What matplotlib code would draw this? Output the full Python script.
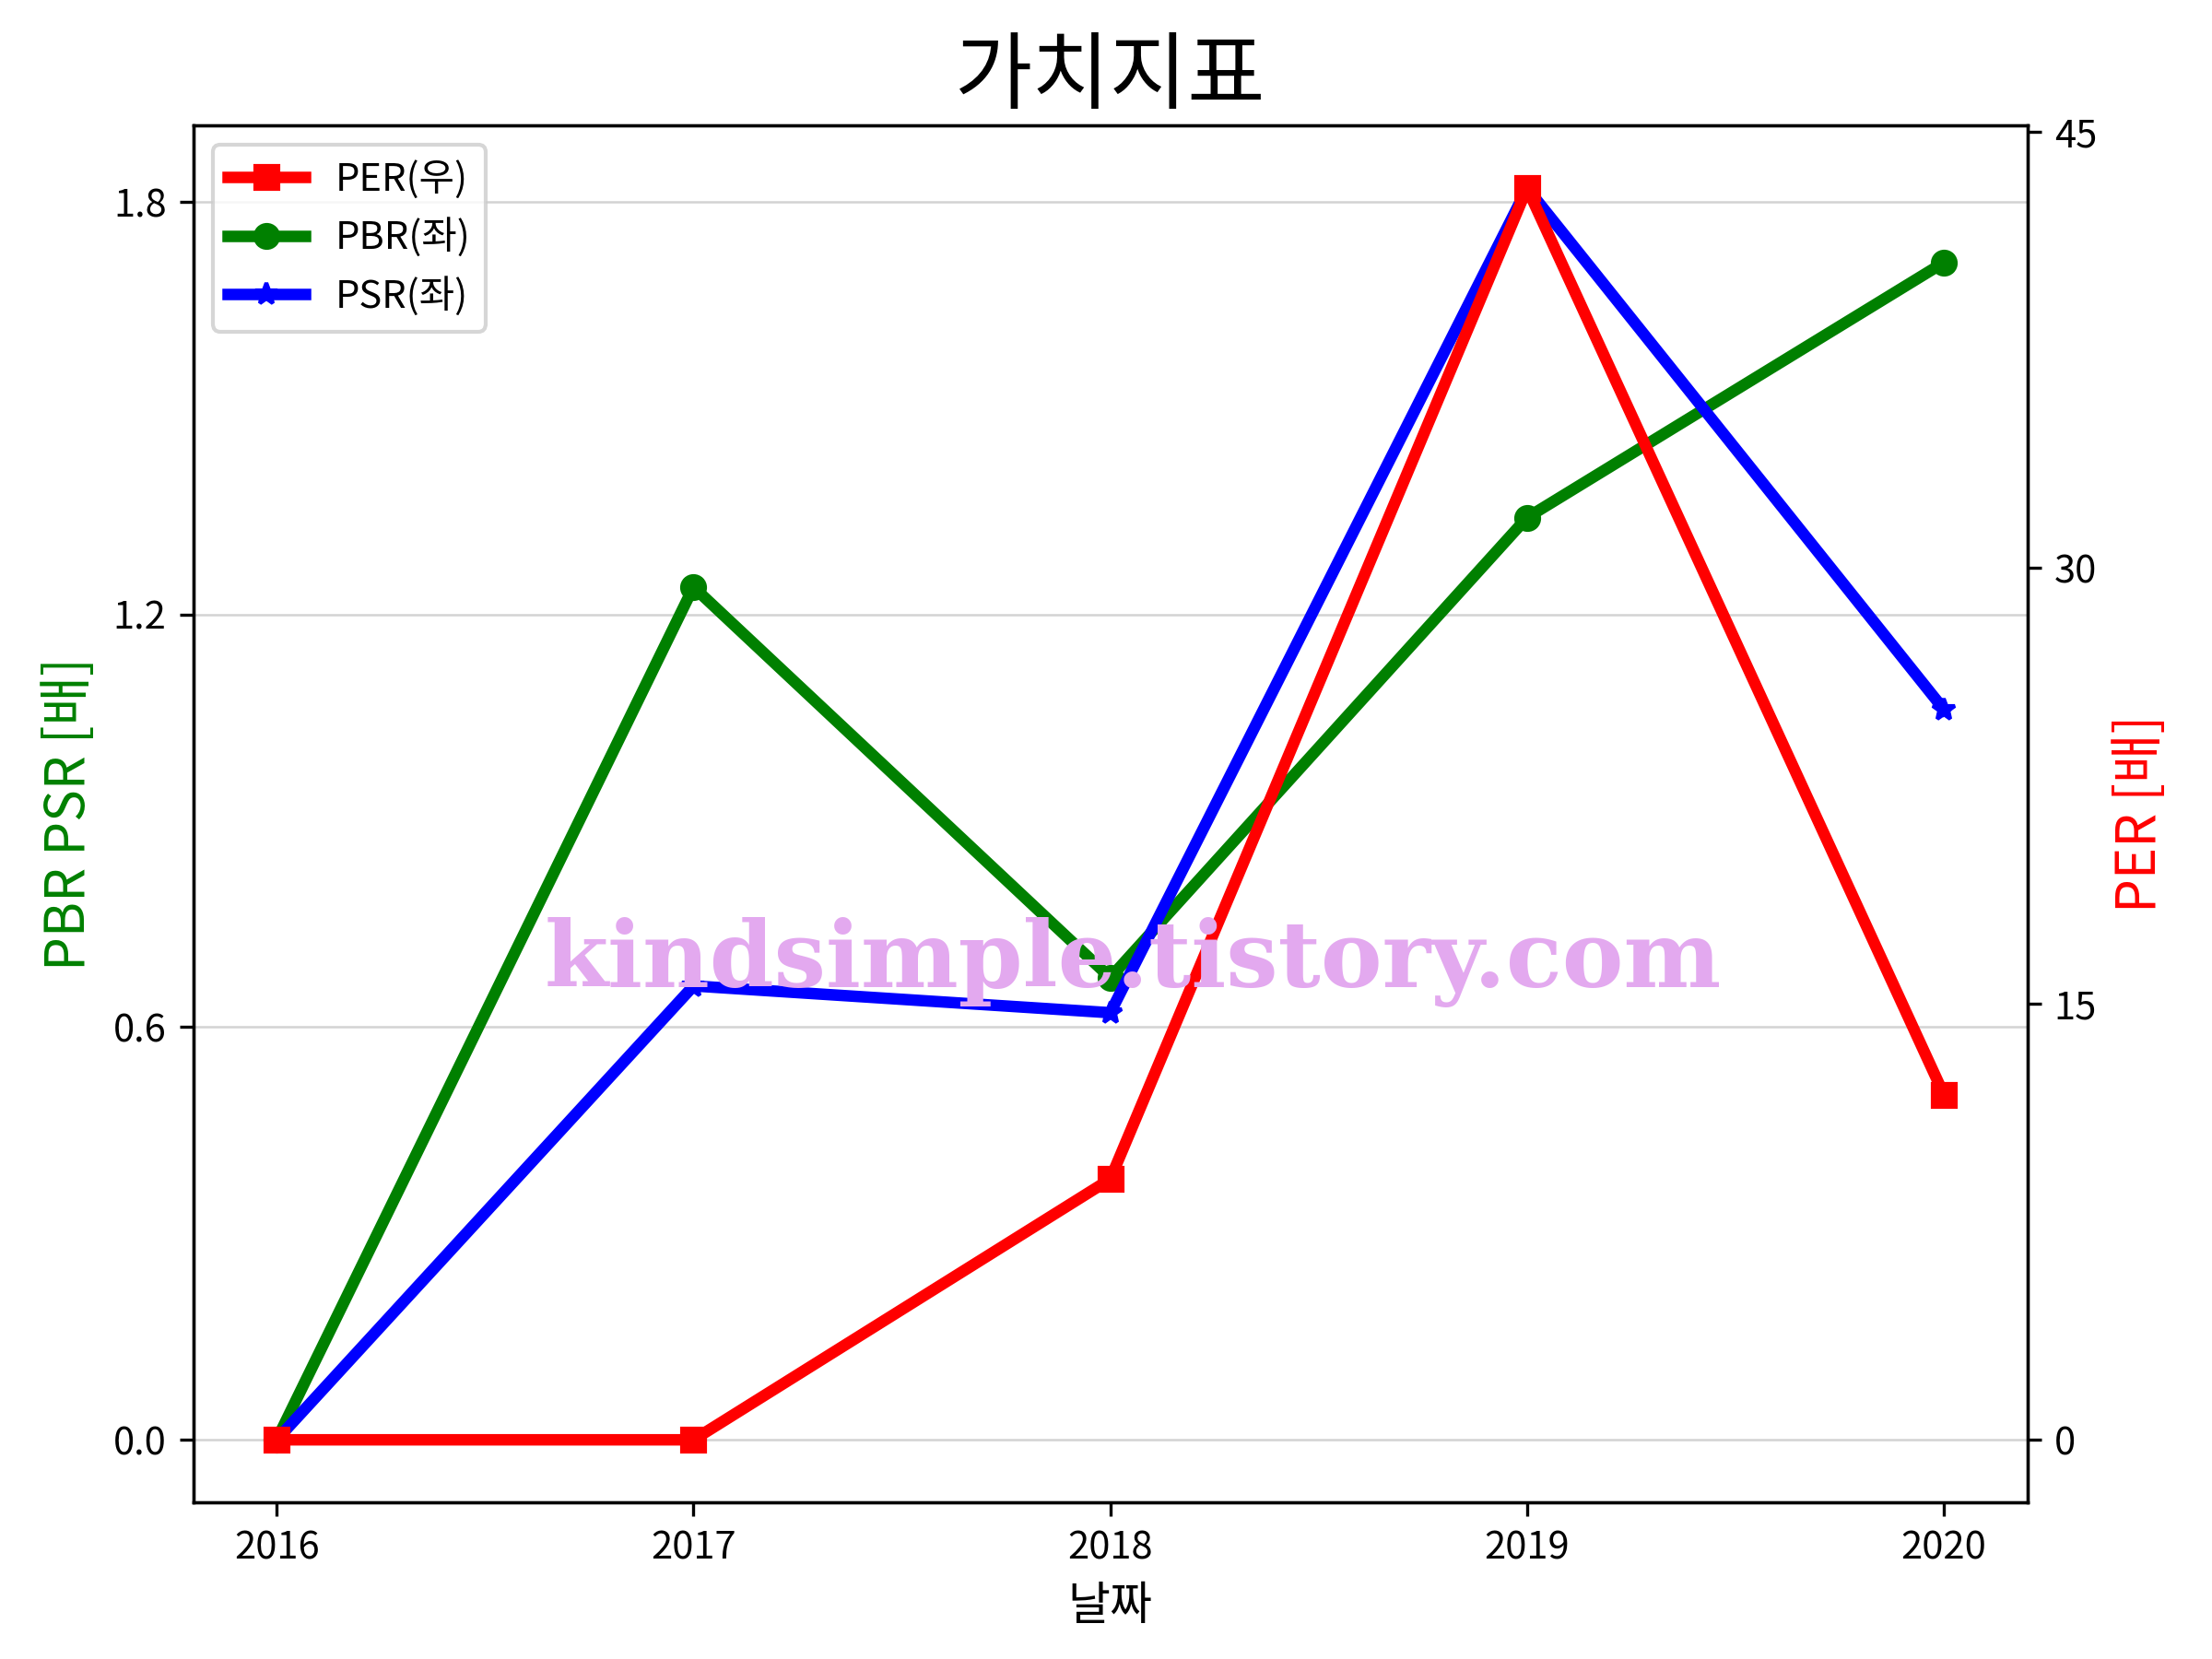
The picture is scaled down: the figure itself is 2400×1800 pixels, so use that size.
import matplotlib.pyplot as plt
from matplotlib.ticker import MultipleLocator

plt.rcParams['font.family'] = ['Noto Sans CJK KR', 'DejaVu Sans']
plt.rcParams['axes.unicode_minus'] = False

years = ['2016', '2017', '2018', '2019', '2020']
per = [0, 0, 8.97, 43.07, 11.88]
pbr = [0, 1.24, 0.672, 1.341, 1.712]
psr = [0, 0.660, 0.621, 1.820, 1.062]

fig, ax1 = plt.subplots(figsize=(8, 6), dpi=300)
ax2 = ax1.twinx()

l2, = ax1.plot(years, pbr, color='green', marker='o', lw=3, label='PBR(좌)')
l3, = ax1.plot(years, psr, color='blue', marker='*', lw=3, label='PSR(좌)')
l1, = ax2.plot(years, per, color='red', marker='s', lw=3, label='PER(우)')

ax1.yaxis.set_major_locator(MultipleLocator(0.6))
ax2.yaxis.set_major_locator(MultipleLocator(15))
ax1.grid(axis='y', color='lightgray', lw=0.6)

ax1.set_xlabel('날짜', fontsize=12)
ax1.set_ylabel('PBR PSR [배]', color='green', fontsize=14)
ax2.set_ylabel('PER [배]', color='red', fontsize=14)
ax1.set_title('가치지표', fontsize=22)

ax1.legend([l1, l2, l3], ['PER(우)', 'PBR(좌)', 'PSR(좌)'], loc='upper left')

fig.subplots_adjust(left=0.0874, right=0.9165, top=0.9243, bottom=0.0944)
fig.text(0.512, 0.42, 'kindsimple.tistory.com', fontsize=24, fontweight='bold',
         family='DejaVu Serif', color='#e3a9ef', ha='center', va='center')

plt.savefig('out.png')
